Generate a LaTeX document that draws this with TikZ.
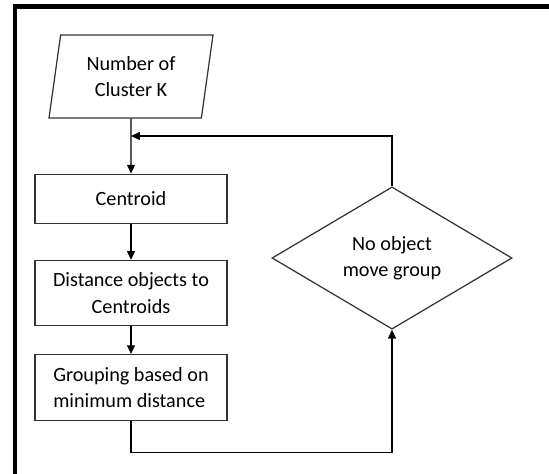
\documentclass[tikz,border=0pt]{standalone}
\usepackage{fontspec}
\setmainfont{Carlito}
\usetikzlibrary{positioning,shapes.geometric,arrows.meta}

\begin{document}
\begin{tikzpicture}[
    node distance=0.7cm,
    >={Triangle[length=5pt,width=4.5pt]},
    box/.style={
        draw=black!80,
        line width=0.7pt,
        align=center,
        font=\fontsize{11.5}{15}\selectfont,
        minimum width=3.84cm
    },
    inbox/.style={
        box,
        trapezium,
        trapezium left angle=74,
        trapezium right angle=106,
        trapezium stretches body,
        minimum width=3.28cm,
        minimum height=1.66cm,
        inner sep=0pt
    },
    choice/.style={
        box,
        diamond,
        minimum width=4.8cm,
        minimum height=2.68cm,
        inner sep=0pt
    },
    arrow/.style={
        ->,
        line width=0.7pt
    },
    frame/.style={
        line width=2.5pt
    }
]

\useasboundingbox (0,0) rectangle (10.98,-9.48);
\draw[frame] (0.3,-9.6) |- (11.1,-0.13);

\node[inbox] (num) at (2.62,-1.53) {Number of\\Cluster K};
\node[box, minimum height=0.98cm, below=1.1cm of num] (cent) {Centroid};
\node[box, minimum height=1.3cm, below=0.72cm of cent] (dist) {Distance objects to\\Centroids};
\node[box, minimum height=1.32cm, below=0.56cm of dist, align=left] (group) {Grouping based on\\minimum distance};
\node[choice] (nomove) at (7.84,-5.16) {No object\\move group};

\coordinate (merge) at (num.south |- 0,-2.72);
\coordinate[below=0.62cm of group] (low);

\draw[arrow] (num) -- (cent);
\draw[arrow] (cent) -- (dist);
\draw[arrow] (dist) -- (group);
\draw[arrow] (nomove.north) |- (merge);
\draw[arrow] (group.south) -- (low) -| (nomove.south);

\end{tikzpicture}
\end{document}
